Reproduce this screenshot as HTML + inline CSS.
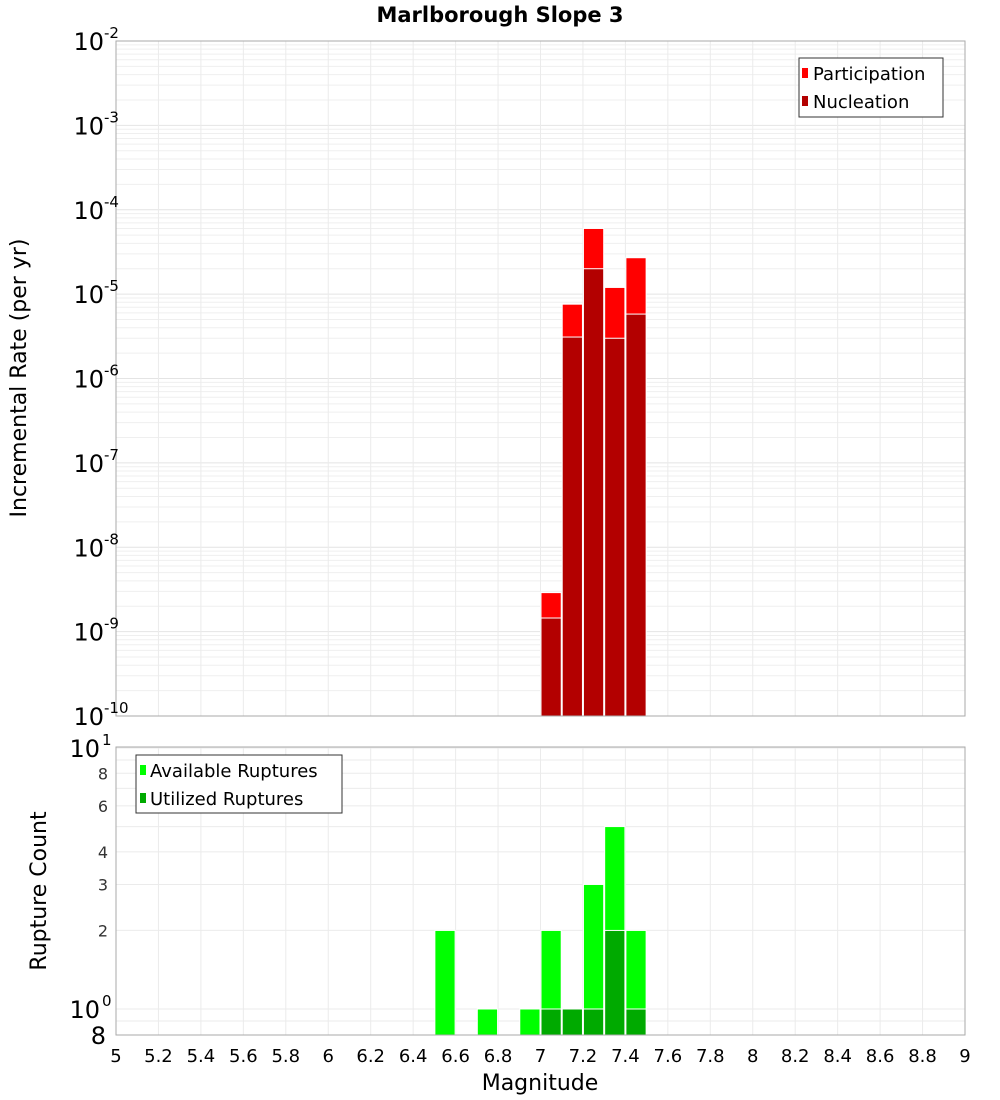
<!DOCTYPE html>
<html><head><meta charset="utf-8"><style>
html,body{margin:0;padding:0;background:#fff;}
svg{display:block;font-family:"DejaVu Sans","Liberation Sans",sans-serif;}
</style></head><body>
<svg id="chart" width="1000" height="1100" xmlns="http://www.w3.org/2000/svg">
<text x="500" y="22" text-anchor="middle" font-size="21" font-weight="bold">Marlborough Slope 3</text>
<text transform="translate(26,378) rotate(-90)" text-anchor="middle" font-size="22">Incremental Rate (per yr)</text>
<text transform="translate(46,891) rotate(-90)" text-anchor="middle" font-size="22">Rupture Count</text>
<text x="540" y="1090" text-anchor="middle" font-size="22">Magnitude</text>
<g id="g"></g>
</svg>
<script>
const magBins = [7.05, 7.15, 7.25, 7.35, 7.45];
const participation = [2.9e-9, 7.6e-6, 6.0e-5, 1.2e-5, 2.7e-5];
const nucleation = [1.45e-9, 3.1e-6, 2.0e-5, 3.0e-6, 5.8e-6];
const countBins = [6.55, 6.75, 6.95, 7.05, 7.15, 7.25, 7.35, 7.45];
const available = [2, 1, 1, 2, 1, 3, 5, 2];
const utilBins = [7.05, 7.15, 7.25, 7.35, 7.45];
const utilized = [1, 1, 1, 2, 1];
const xTicks = [5,5.2,5.4,5.6,5.8,6,6.2,6.4,6.6,6.8,7,7.2,7.4,7.6,7.8,8,8.2,8.4,8.6,8.8,9];
const topExps = [-2,-3,-4,-5,-6,-7,-8,-9,-10];

const NS="http://www.w3.org/2000/svg";
const g=document.getElementById('g');
function mk(t,a,p){const e=document.createElementNS(NS,t);for(const k in a)e.setAttribute(k,a[k]);(p||g).appendChild(e);return e;}
const X0=116,X1=965;
const x=m=>X0+(m-5)/4*(X1-X0);
const T0=41,T1=716;
const yT=v=>T1-(Math.log10(v)+10)/8*(T1-T0);
const B0=747,B1=1035;
const yB=v=>1009-261*Math.log10(v);

// top plot
let r=mk('rect',{x:X0,y:T0,width:X1-X0,height:T1-T0,fill:'#fff',stroke:'none'});


for(let e=-10;e<-2;e++){for(let k=1;k<10;k++){const yy=yT(k*Math.pow(10,e));
 let l=mk('line',{x1:X0,x2:X1,y1:yy,y2:yy,stroke:k==1?'#e4e4e4':'#efefef','stroke-width':1});
 
 }}
xTicks.forEach(t=>{let l=mk('line',{x1:x(t),x2:x(t),y1:T0,y2:T1,stroke:'#ebebeb'});
 
 
 let l2=mk('line',{x1:x(t),x2:x(t),y1:B0,y2:B1,stroke:'#ebebeb'});
 
 });
const bw=(X1-X0)/40;
magBins.forEach((m,i)=>{
 let a=mk('rect',{x:x(m)-bw/2+0.5,y:yT(participation[i]),width:bw-1,height:T1-yT(participation[i]),fill:'#ff0000',stroke:'#fff','stroke-width':1});
 
 
 let b=mk('rect',{x:x(m)-bw/2+0.5,y:yT(nucleation[i]),width:bw-1,height:T1-yT(nucleation[i]),fill:'#b30000',stroke:'#fff','stroke-width':1});
 
 });
mk('rect',{x:X0,y:T0,width:X1-X0,height:T1-T0,fill:'none',stroke:'#aaa'});
topExps.forEach(e=>{const yy=yT(Math.pow(10,e));
 let t=mk('text',{x:104,y:yy+9,'text-anchor':'end','font-size':24});
 
 
 t.textContent='10';
 let s=mk('text',{x:104,y:yy-3,'font-size':15});
 
 
 s.textContent=String(e);});
// top legend
let lg=mk('rect',{x:799,y:58,width:144,height:59,fill:'#fff',stroke:'#333'});


[['Participation','#ff0000',73],['Nucleation','#b30000',101]].forEach(d=>{
 mk('rect',{x:802,y:d[2]-5,width:6,height:10,fill:d[1]});
 let t=mk('text',{x:813,y:d[2]+7,'font-size':18});
 
 
 t.textContent=d[0];});

// bottom plot
for(let v=1;v<=10;v++){const yy=yB(v);
 let l=mk('line',{x1:X0,x2:X1,y1:yy,y2:yy,stroke:'#ebebeb'});
 
 }
let l9=mk('line',{x1:X0,x2:X1,y1:yB(0.9),y2:yB(0.9),stroke:'#ebebeb'});


countBins.forEach((m,i)=>{
 let a=mk('rect',{x:x(m)-bw/2+0.5,y:yB(available[i]),width:bw-1,height:B1-yB(available[i]),fill:'#00ff00',stroke:'#fff','stroke-width':1});
 
 });
utilBins.forEach((m,i)=>{
 let b=mk('rect',{x:x(m)-bw/2+0.5,y:yB(utilized[i]),width:bw-1,height:B1-yB(utilized[i]),fill:'#00aa00',stroke:'#fff','stroke-width':1});
 
 });
mk('rect',{x:X0,y:B0,width:X1-X0,height:B1-B0,fill:'none',stroke:'#aaa'});
[[2,'2'],[3,'3'],[4,'4'],[6,'6'],[8,'8']].forEach(d=>{
 let t=mk('text',{x:108,y:yB(d[0])+6,'text-anchor':'end','font-size':16,fill:'#333'});
 
 
 t.textContent=d[1];});
[[10,'1'],[1,'0']].forEach(d=>{const yy=yB(d[0]);
 let t=mk('text',{x:100,y:yy+9,'text-anchor':'end','font-size':24});
 
 
 t.textContent='10';
 let s=mk('text',{x:102,y:yy-3,'font-size':15});
 
 
 s.textContent=d[1];});
let t8=mk('text',{x:106,y:1044,'text-anchor':'end','font-size':24});


t8.textContent='8';
xTicks.forEach(tk=>{let t=mk('text',{x:x(tk),y:1062,'text-anchor':'middle','font-size':18});
 
 
 t.textContent=String(tk);});
// bottom legend
let lg2=mk('rect',{x:136,y:755,width:206,height:58,fill:'#fff',stroke:'#333'});


[['Available Ruptures','#00ff00',770],['Utilized Ruptures','#00aa00',798]].forEach(d=>{
 mk('rect',{x:140,y:d[2]-5,width:6,height:10,fill:d[1]});
 let t=mk('text',{x:150,y:d[2]+7,'font-size':18});
 
 
 t.textContent=d[0];});
</script>
</body></html>
